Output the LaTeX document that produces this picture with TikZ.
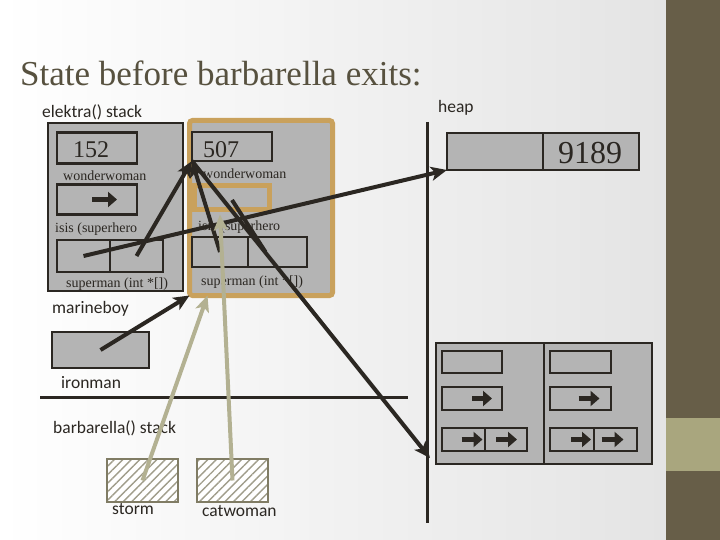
\documentclass[tikz,border=0pt]{standalone}
\usepackage{fontspec}
\setmainfont{Liberation Serif}
\newfontfamily\labelfont{Carlito}
\usetikzlibrary{arrows.meta}
\usetikzlibrary{patterns.meta}

\definecolor{ink}{HTML}{2B2722}
\definecolor{boxgray}{HTML}{B4B4B4}
\definecolor{frameorange}{HTML}{C9A15C}
\definecolor{khaki}{HTML}{B3B192}
\definecolor{hatchline}{HTML}{807C64}
\definecolor{titlecol}{HTML}{57513F}
\definecolor{bggray}{HTML}{E4E4E4}
\definecolor{band}{HTML}{675E48}
\definecolor{bandlight}{HTML}{A9A67E}

\tikzset{
  cell/.style={draw=ink, fill=boxgray, line width=2.2pt, inner sep=0pt, outer sep=0pt},
  hatchbox/.style={draw=hatchline, line width=2.2pt, inner sep=0pt, outer sep=0pt,
    preaction={fill=white}, pattern={Lines[angle=45,distance=6pt,line width=1.4pt]},
    pattern color=hatchline!75},
  ptr/.style={draw=ink, line width=4pt, -{Stealth[length=16pt,width=14pt,inset=4pt]}},
  softptr/.style={draw=khaki, line width=4pt, -{Stealth[length=16pt,width=14pt,inset=4pt]}},
  tinyarrow/.style={draw=ink, line width=5pt, -{Triangle[length=9pt,width=15pt]}},
  sanslabel/.style={font=\labelfont\fontsize{17.5}{20}\selectfont, text=ink, inner sep=0pt, anchor=base west},
  seriflabel/.style={font=\fontsize{14}{16}\selectfont, text=ink, inner sep=0pt, anchor=base west},
  numlabel/.style={font=\fontsize{24}{28}\selectfont, text=ink, inner sep=0pt, anchor=base west}
}

\begin{document}
\begin{tikzpicture}[x=1pt, y=-1pt]
  \useasboundingbox (0,0) rectangle (720,540);
  % background and side band
  \shade[left color=white, middle color=white, right color=bggray] (0,0) rectangle (666,540);
  \fill[band] (666,0) rectangle (720,540);
  \fill[bandlight] (666,418) rectangle (720,471);

  \node[anchor=base west, font=\fontsize{35}{40}\selectfont, text=titlecol, inner sep=0pt] (title) at (20,86) {State before barbarella exits:};
  \node[sanslabel] (elektralbl) at (42,118) {elektra() stack};
  \node[sanslabel] (heaplbl) at (438,113) {heap};

  % elektra frames
  \node[cell, minimum width=135pt, minimum height=168pt] (lframe) at (115.5,207) {};
  \node[draw=frameorange, fill=boxgray, line width=5pt, rounded corners=3pt, inner sep=0pt, outer sep=0pt,
        minimum width=143pt, minimum height=175pt] (oframe) at (261,208) {};

  % left frame
  \node[cell, minimum width=80pt, minimum height=31pt] (n152) at (97,148) {};
  \node[numlabel] (t152) at (73,158) {152};
  \node[seriflabel] (lwwlbl) at (63,181) {wonderwoman};
  \node[cell, minimum width=80pt, minimum height=30pt] (lww) at (97,199.5) {};
  \draw[tinyarrow] ([xshift=-5pt]lww.center) -- ([xshift=20pt]lww.center);
  \node[seriflabel] (lisislbl) at (55,233) {isis (superhero};
  \node[cell, minimum width=53pt, minimum height=32pt] (lisA) at (83.5,256) {};
  \node[cell, minimum width=53pt, minimum height=32pt] (lisB) at (136.5,256) {};
  \node[seriflabel] (lsuplbl) at (66,287) {superman (int *[])};

  % orange frame
  \node[cell, minimum width=80pt, minimum height=29pt] (n507) at (232,146.5) {};
  \node[numlabel] (t507) at (203,158) {507};
  \node[seriflabel] (rwwlbl) at (203,179) {wonderwoman};
  \node[draw=frameorange, fill=boxgray, line width=5pt, inner sep=0pt, outer sep=0pt,
        minimum width=75pt, minimum height=24pt] (owp) at (232,197.5) {};
  \node[seriflabel] (risislbl) at (198,230) {isis (superhero};
  \node[cell, minimum width=56pt, minimum height=30pt] (risA) at (220,252) {};
  \node[cell, minimum width=59pt, minimum height=30pt] (risB) at (277.5,252) {};
  \node[seriflabel] (rsuplbl) at (201,285) {superman (int *[])};

  % marineboy
  \node[sanslabel] (mblbl) at (52,313) {marineboy};
  \node[cell, minimum width=97pt, minimum height=36pt] (mb) at (100.5,350) {};
  \node[sanslabel] (imlbl) at (61,388) {ironman};
  \draw[ink, line width=3pt] (40,397) -- (408,397);

  % barbarella
  \node[sanslabel] (barblbl) at (53,433) {barbarella() stack};
  \node[hatchbox, minimum width=71pt, minimum height=43pt] (storm) at (142.5,480.5) {};
  \node[hatchbox, minimum width=71pt, minimum height=43pt] (cw) at (232.5,480.5) {};
  \node[sanslabel] (stormlbl) at (112,514) {storm};
  \node[sanslabel] (cwlbl) at (202,516) {catwoman};

  % heap
  \draw[ink, line width=3pt] (427,122) -- (427,523);
  \node[cell, minimum width=96pt, minimum height=37pt] (hA) at (495,151.5) {};
  \node[cell, minimum width=96pt, minimum height=37pt] (hB) at (591,151.5) {};
  \node[anchor=base west, font=\fontsize{32}{36}\selectfont, text=ink, inner sep=0pt] (t9189) at (558,164) {9189};

  \node[cell, minimum width=216pt, minimum height=121pt] (hbot) at (544,403.5) {};
  \draw[ink, line width=2.2pt] (hbot.north) -- (hbot.south);
  \node[cell, minimum width=60pt, minimum height=22pt] (hb1L) at (472,362) {};
  \node[cell, minimum width=60pt, minimum height=23pt] (hb2L) at (472,398.5) {};
  \node[cell, minimum width=43pt, minimum height=23pt] (hb3La) at (463.5,439.5) {};
  \node[cell, minimum width=42pt, minimum height=23pt] (hb3Lb) at (506,439.5) {};
  \node[cell, minimum width=61pt, minimum height=22pt] (hb1R) at (580.5,362) {};
  \node[cell, minimum width=61pt, minimum height=23pt] (hb2R) at (580.5,398.5) {};
  \node[cell, minimum width=44pt, minimum height=23pt] (hb3Ra) at (572,439.5) {};
  \node[cell, minimum width=43pt, minimum height=23pt] (hb3Rb) at (615.5,439.5) {};
  \draw[tinyarrow] ([xshift=0pt]hb2L.center) -- ([xshift=20pt]hb2L.center);
  \draw[tinyarrow] ([xshift=-2pt]hb3La.center) -- ([xshift=19pt]hb3La.center);
  \draw[tinyarrow] ([xshift=-10pt]hb3Lb.center) -- ([xshift=11pt]hb3Lb.center);
  \draw[tinyarrow] ([xshift=-2pt]hb2R.center) -- ([xshift=19pt]hb2R.center);
  \draw[tinyarrow] ([xshift=-1pt]hb3Ra.center) -- ([xshift=19pt]hb3Ra.center);
  \draw[tinyarrow] ([xshift=-14pt]hb3Rb.center) -- ([xshift=8pt]hb3Rb.center);

  % pointers
  \coordinate (stub) at (232,200);
  \draw[ptr] (lisA.center) -- (hA.south west);
  \draw[ptr] (lisB.center) -- (n507.south west);
  \draw[ptr] (risA.center) -- (n507.south west);
  \draw[ptr] (n507.south west) -- ([xshift=-6pt,yshift=6pt]hbot.south west);
  \draw[ink, line width=4pt] (stub) -- ([xshift=-12pt]risB.center);
  \draw[ptr] (mb.center) -- (oframe.south west);
  \draw[softptr] (storm.center) -- ([xshift=18pt]oframe.south west);
  \draw[softptr] (cw.center) -- ([xshift=-12pt,yshift=-5pt]owp.south);
\end{tikzpicture}
\end{document}
